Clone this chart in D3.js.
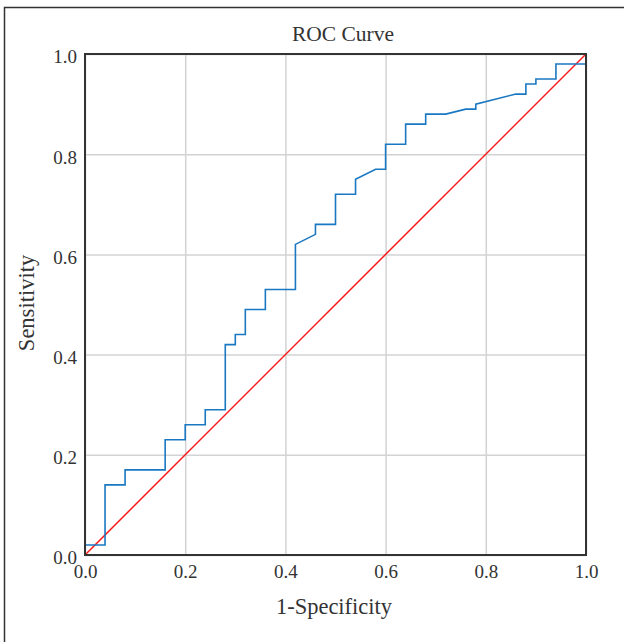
<!DOCTYPE html>
<meta charset="utf-8">
<style>
body { margin: 0; background: #fff; }
text { font-family: "Liberation Serif", "Times New Roman", serif; fill: #333; }
.grid line { stroke: #d3d3d3; stroke-width: 1.5; }
.grid path { display: none; }
.axis path { display: none; }
.axis line { display: none; }
</style>
<body>
<svg width="624" height="642"></svg>
<script src="https://d3js.org/d3.v7.min.js"></script>
<script>

// ROC points (1-specificity, sensitivity)
var fpr = [0, 0, 0.04, 0.04, 0.08, 0.08, 0.16, 0.16, 0.2, 0.2, 0.24, 0.24, 0.28, 0.28, 0.3, 0.3,
           0.32, 0.32, 0.36, 0.36, 0.42, 0.42, 0.46, 0.46, 0.5, 0.5, 0.54, 0.54, 0.58, 0.6, 0.6,
           0.64, 0.64, 0.68, 0.68, 0.72, 0.76, 0.78, 0.78, 0.86, 0.88, 0.88, 0.9, 0.9, 0.94, 0.94, 1.0, 1.0];
var tpr = [0, 0.02, 0.02, 0.14, 0.14, 0.17, 0.17, 0.23, 0.23, 0.26, 0.26, 0.29, 0.29, 0.42, 0.42, 0.44,
           0.44, 0.49, 0.49, 0.53, 0.53, 0.62, 0.64, 0.66, 0.66, 0.72, 0.72, 0.75, 0.77, 0.77, 0.82,
           0.82, 0.86, 0.86, 0.88, 0.88, 0.89, 0.89, 0.90, 0.92, 0.92, 0.94, 0.94, 0.95, 0.95, 0.98, 0.98, 1.0];
var tickValues = [0, 0.2, 0.4, 0.6, 0.8, 1.0];
var diagonal = [0, 1];

var svg = d3.select("svg"),
    margin = {top: 54, left: 85},
    width = 501,
    height = 501,
    g = svg.append("g").attr("transform", "translate(" + margin.left + "," + margin.top + ")");

// outer frame, runs off the right and bottom edges
svg.append("rect")
    .attr("x", 4.5).attr("y", 7.5)
    .attr("width", 700).attr("height", 700)
    .attr("fill", "none")
    .attr("stroke", "#333")
    .attr("stroke-width", 1.5);

var x = d3.scaleLinear().domain([0, 1]).range([0, width]);
var y = d3.scaleLinear().domain([0, 1]).range([height, 0]);

// grid
g.append("g")
    .attr("class", "grid")
    .attr("transform", "translate(0," + height + ")")
    .call(d3.axisBottom(x).tickValues(tickValues).tickSize(-height).tickFormat(""));

g.append("g")
    .attr("class", "grid")
    .call(d3.axisLeft(y).tickValues(tickValues).tickSize(-width).tickFormat(""));

// tick labels
var xAxis = g.append("g")
    .attr("class", "axis")
    .attr("transform", "translate(0," + height + ")")
    .call(d3.axisBottom(x).tickValues(tickValues).tickFormat(d3.format(".1f")).tickSizeInner(0).tickPadding(9.5));
xAxis.selectAll("text").style("font-size", "19px");

var yAxis = g.append("g")
    .attr("class", "axis")
    .call(d3.axisLeft(y).tickValues(tickValues).tickFormat(d3.format(".1f")).tickSizeInner(0).tickPadding(8));
yAxis.selectAll("text").style("font-size", "19px").attr("dy", "0.47em");

// diagonal reference line
g.append("line")
    .attr("x1", x(diagonal[0])).attr("y1", y(diagonal[0]))
    .attr("x2", x(diagonal[1])).attr("y2", y(diagonal[1]))
    .attr("stroke", "#ff1a1a")
    .attr("stroke-width", 1.5);

// ROC curve
var roc = fpr.map(function(d, i) { return {fpr: d, tpr: tpr[i]}; });
var line = d3.line()
    .x(function(d) { return x(d.fpr); })
    .y(function(d) { return y(d.tpr); });

g.append("path")
    .datum(roc)
    .attr("d", line)
    .attr("fill", "none")
    .attr("stroke", "#1a78c2")
    .attr("stroke-width", 1.6);

// plot box
g.append("rect")
    .attr("width", width).attr("height", height)
    .attr("fill", "none")
    .attr("stroke", "#333")
    .attr("stroke-width", 2);

// title and axis labels
svg.append("text")
    .attr("x", 343).attr("y", 41)
    .attr("text-anchor", "middle")
    .style("font-size", "21.5px")
    .text("ROC Curve");

svg.append("text")
    .attr("x", 334).attr("y", 614)
    .attr("text-anchor", "middle")
    .style("font-size", "22.5px")
    .text("1-Specificity");

svg.append("text")
    .attr("transform", "translate(34,303) rotate(-90)")
    .attr("text-anchor", "middle")
    .style("font-size", "22.5px")
    .text("Sensitivity");

</script>
</body>
